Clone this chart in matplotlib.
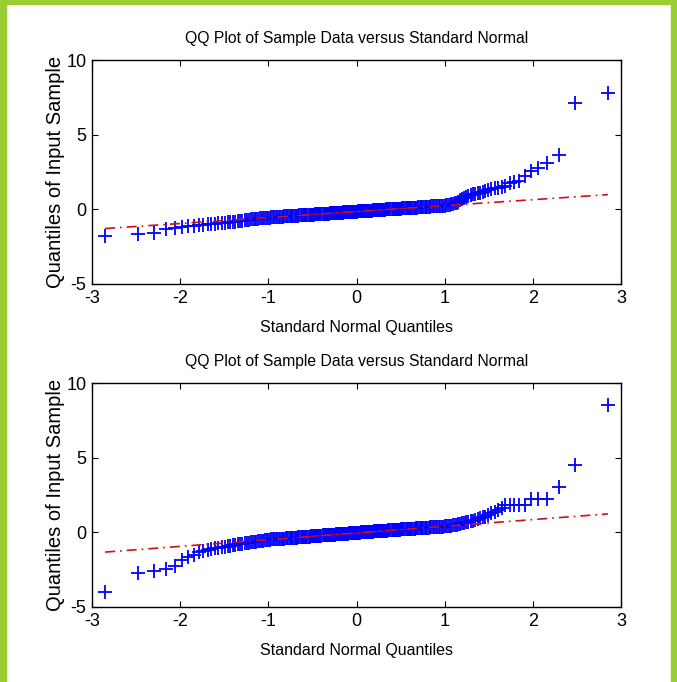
import statistics
import numpy as np
import matplotlib
matplotlib.use("Agg")
import matplotlib.pyplot as plt
from matplotlib.patches import Rectangle

plt.rcParams['font.family'] = ['Liberation Sans', 'DejaVu Sans']
plt.rcParams['axes.unicode_minus'] = False

# sorted sample values (230 points each)
top_sample = [
    -1.77, -1.62, -1.60, -1.34, -1.22,
    -1.17, -1.13, -1.10, -1.07, -1.04, -1.01, -0.98, -0.96, -0.94, -0.92,
    -0.90, -0.88, -0.86, -0.84, -0.82, -0.80, -0.78, -0.76, -0.74, -0.72,
    -0.70, -0.68, -0.66, -0.65, -0.64, -0.62, -0.61, -0.60, -0.59, -0.58, -0.57,
    -0.55, -0.55, -0.54, -0.53,
    -0.53, -0.52, -0.51, -0.51, -0.50, -0.50, -0.49, -0.48, -0.48, -0.47,
    -0.46, -0.46, -0.45, -0.45, -0.44, -0.43, -0.43, -0.42, -0.42, -0.41,
    -0.41, -0.40, -0.40, -0.39, -0.39, -0.38, -0.38, -0.37, -0.37, -0.36,
    -0.36, -0.35, -0.35, -0.34, -0.34, -0.33, -0.33, -0.32, -0.32, -0.31,
    -0.31, -0.30, -0.30, -0.29, -0.29, -0.28, -0.28, -0.27, -0.27, -0.26,
    -0.26, -0.26, -0.25, -0.25, -0.24, -0.24, -0.23, -0.23, -0.22, -0.22,
    -0.22, -0.21, -0.21, -0.20, -0.20, -0.19, -0.19, -0.18, -0.18, -0.17,
    -0.17, -0.17, -0.16, -0.16, -0.15, -0.15, -0.14, -0.14, -0.13, -0.13,
    -0.13, -0.12, -0.12, -0.11, -0.11, -0.10, -0.10, -0.10, -0.09, -0.09,
    -0.08, -0.08, -0.07, -0.07, -0.06, -0.06, -0.05, -0.05, -0.04, -0.04,
    -0.04, -0.03, -0.03, -0.02, -0.02, -0.01, -0.01, 0.00, 0.00, 0.00,
    0.01, 0.01, 0.02, 0.02, 0.03, 0.03, 0.04, 0.04, 0.05, 0.05,
    0.06, 0.06, 0.07, 0.07, 0.08, 0.08, 0.09, 0.09, 0.10, 0.10,
    0.11, 0.11, 0.12, 0.12, 0.13, 0.14, 0.14, 0.15, 0.15, 0.16,
    0.17, 0.17, 0.18, 0.18, 0.19, 0.20, 0.20, 0.21, 0.21, 0.22,
    0.23, 0.23, 0.24, 0.25,
    0.27, 0.29, 0.31, 0.33, 0.36, 0.40, 0.45, 0.52, 0.60, 0.68,
    0.76, 0.84, 0.90, 0.95, 1.00, 1.04, 1.08, 1.12, 1.17, 1.22,
    1.27, 1.33, 1.40, 1.46, 1.50, 1.55, 1.75, 1.82, 1.90, 2.25,
    2.55, 2.80, 3.12, 3.65, 7.15, 7.82,
]

bottom_sample = [
    -3.98, -2.75, -2.57, -2.48, -2.26,
    -1.86, -1.63, -1.50, -1.32, -1.25, -1.18, -1.12, -1.07, -1.02, -0.98,
    -0.95, -0.92, -0.89, -0.86, -0.84, -0.81, -0.79, -0.76, -0.74, -0.72,
    -0.70, -0.68, -0.66, -0.64, -0.62, -0.60, -0.58, -0.56, -0.55, -0.53, -0.52,
    -0.50, -0.49, -0.48, -0.48,
    -0.47, -0.46, -0.45, -0.45, -0.44, -0.43, -0.42, -0.42, -0.41, -0.40,
    -0.39, -0.39, -0.38, -0.37, -0.37, -0.36, -0.35, -0.35, -0.34, -0.33,
    -0.33, -0.32, -0.32, -0.31, -0.30, -0.30, -0.29, -0.29, -0.28, -0.27,
    -0.27, -0.26, -0.26, -0.25, -0.25, -0.24, -0.24, -0.23, -0.23, -0.22,
    -0.21, -0.21, -0.20, -0.20, -0.19, -0.19, -0.18, -0.17, -0.17, -0.16,
    -0.16, -0.15, -0.15, -0.14, -0.14, -0.13, -0.13, -0.12, -0.12, -0.11,
    -0.11, -0.10, -0.10, -0.09, -0.09, -0.08, -0.08, -0.07, -0.07, -0.06,
    -0.06, -0.05, -0.05, -0.04, -0.04, -0.03, -0.03, -0.02, -0.02, -0.01,
    -0.01, 0.00, 0.00, 0.01, 0.01, 0.02, 0.02, 0.03, 0.03, 0.04,
    0.04, 0.05, 0.05, 0.06, 0.06, 0.07, 0.07, 0.08, 0.08, 0.09,
    0.09, 0.10, 0.10, 0.11, 0.11, 0.12, 0.12, 0.13, 0.13, 0.14,
    0.14, 0.15, 0.15, 0.16, 0.16, 0.17, 0.17, 0.18, 0.18, 0.19,
    0.19, 0.20, 0.20, 0.21, 0.21, 0.22, 0.22, 0.23, 0.23, 0.24,
    0.25, 0.25, 0.26, 0.26, 0.27, 0.28, 0.28, 0.29, 0.29, 0.30,
    0.31, 0.31, 0.32, 0.33, 0.33, 0.34, 0.35, 0.35, 0.36, 0.37,
    0.38, 0.38, 0.39, 0.40,
    0.41, 0.42, 0.43, 0.45, 0.47, 0.49, 0.51, 0.54, 0.57, 0.60,
    0.63, 0.66, 0.70, 0.74, 0.78, 0.82, 0.88, 0.94, 1.00, 1.05,
    1.15, 1.28, 1.38, 1.50, 1.62, 1.80, 1.83, 1.83, 1.84, 1.85,
    2.20, 2.21, 2.22, 3.06, 4.52, 8.55,
]

title = "QQ Plot of Sample Data versus Standard Normal"
xlab = "Standard Normal Quantiles"
ylab = "Quantiles of Input Sample"
xticks = [-3, -2, -1, 0, 1, 2, 3]
yticks = [-5, 0, 5, 10]

nd = statistics.NormalDist()


def qqplot(ax, sample):
    y = np.sort(np.array(sample))
    n = len(y)
    x = np.array([nd.inv_cdf((i - 0.5) / n) for i in range(1, n + 1)])
    ax.plot(x, y, "+", color="b", ms=10, mew=1.3, zorder=2)

    # reference line through the quartiles, extended to the data ends (like matlab)
    q1x, q3x = nd.inv_cdf(0.25), nd.inv_cdf(0.75)
    q1y, q3y = np.percentile(y, [25, 75])
    slope = (q3y - q1y) / (q3x - q1x)
    ax.plot([q1x, q3x], [q1y, q3y], "-", color="#d01010", lw=0.6, zorder=3)
    ends = np.array([x[0], x[-1]])
    ax.plot(ends, q1y + slope * (ends - q1x), "-.", color="#d01010", lw=1.2,
            dashes=(6, 3, 1, 3), zorder=3)

    ax.set_xlim(-3, 3)
    ax.set_ylim(-5, 10)
    ax.set_xticks(xticks)
    ax.set_yticks(yticks)
    ax.tick_params(direction="in", length=4, width=0.8, top=True, right=True,
                   labelsize=13, pad=4)
    for s in ax.spines.values():
        s.set_linewidth(1.0)
    ax.set_title(title, fontsize=11.3, pad=12)
    ax.set_xlabel(xlab, fontsize=11.5, labelpad=10)
    ax.set_ylabel(ylab, fontsize=14.5, labelpad=1)


fig = plt.figure(figsize=(6.77, 6.82), dpi=100)
ax1 = fig.add_axes([0.1359, 0.5836, 0.7814, 0.3284])
ax2 = fig.add_axes([0.1359, 0.1100, 0.7814, 0.3284])
qqplot(ax1, top_sample)
qqplot(ax2, bottom_sample)

# green frame of the screenshot
green = "#9acd32"
fig.patches.append(Rectangle((0, 0), 6 / 677, 1, transform=fig.transFigure, color=green))
fig.patches.append(Rectangle((1 - 6 / 677, 0), 6 / 677, 1, transform=fig.transFigure, color=green))
fig.patches.append(Rectangle((0, 1 - 4 / 682), 1, 4 / 682, transform=fig.transFigure, color=green))

fig.savefig("out.png", dpi=100)
